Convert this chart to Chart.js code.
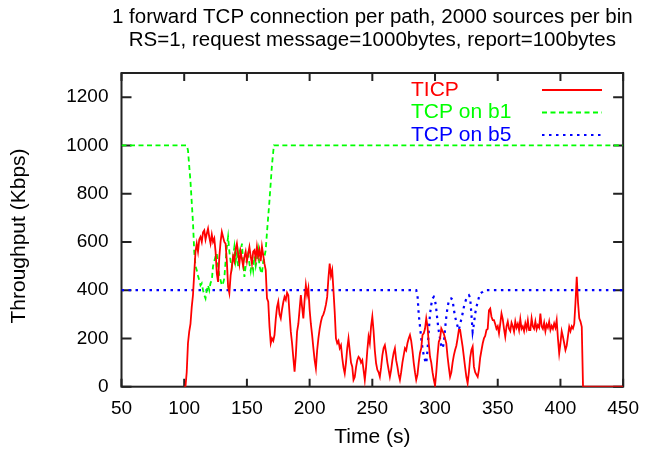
<!DOCTYPE html>
<html>
<head>
<meta charset="utf-8">
<script src="https://cdn.jsdelivr.net/npm/chart.js@4.4.0/dist/chart.umd.min.js"></script>
<style>
  html, body { margin: 0; padding: 0; background: #fff; }
  #wrap { width: 650px; height: 452px; }
</style>
</head>
<body>
<div id="wrap"><canvas id="tputChart" width="650" height="452"></canvas></div>
<script>
// TICP throughput (Kbps) over time (s)
var ticpTime = [100, 101, 102, 103, 104, 105, 106, 107, 108, 109, 110, 111, 112, 113, 114, 115, 116, 117, 118, 119,
  120, 121, 122, 123, 124, 125, 126, 127, 128, 129, 130, 131, 132, 133, 134, 135, 136, 137, 138, 139,
  140, 141, 142, 143, 144, 145, 146, 147, 148, 149, 150, 151, 152, 153, 154, 155, 156, 157, 158, 159,
  160, 161, 162, 163, 164, 165, 166, 167, 168, 169, 170, 171, 172, 173, 174, 175, 176, 177, 178, 179,
  180, 181, 182, 183, 184, 185, 186, 187, 188, 189, 190, 191, 192, 193, 194, 195, 196, 197, 198, 199,
  200, 201, 202, 203, 204, 205, 206, 207, 208, 209, 210, 211, 212, 213, 214, 215, 216, 217, 218, 219,
  220, 221, 222, 223, 224, 225, 226, 227, 228, 229, 230, 231, 232, 233, 234, 235, 236, 237, 238, 239,
  240, 241, 242, 243, 244, 245, 246, 247, 248, 249, 250, 251, 252, 253, 254, 255, 256, 257, 258, 259,
  260, 261, 262, 263, 264, 265, 266, 267, 268, 269, 270, 271, 272, 273, 274, 275, 276, 277, 278, 279,
  280, 281, 282, 283, 284, 285, 286, 287, 288, 289, 290, 291, 292, 293, 294, 295, 296, 297, 298, 299,
  300, 301, 302, 303, 304, 305, 306, 307, 308, 309, 310, 311, 312, 313, 314, 315, 316, 317, 318, 319,
  320, 321, 322, 323, 324, 325, 326, 327, 328, 329, 330, 331, 332, 333, 334, 335, 336, 337, 338, 339,
  340, 341, 342, 343, 344, 345, 346, 347, 348, 349, 350, 351, 352, 353, 354, 355, 356, 357, 358, 359,
  360, 361, 362, 363, 364, 365, 366, 367, 368, 369, 370, 371, 372, 373, 374, 375, 376, 377, 378, 379,
  380, 381, 382, 383, 384, 385, 386, 387, 388, 389, 390, 391, 392, 393, 394, 395, 396, 397, 398, 399,
  400, 401, 402, 403, 404, 405, 406, 407, 408, 409, 410, 411, 412, 413, 414, 415, 416, 417, 418, 450];
var ticpRate = [0, 0, 60, 180, 228, 260, 330, 380, 470, 559, 593, 560, 610, 621, 600, 640, 648, 610, 634, 655,
  620, 593, 630, 600, 614, 560, 469, 434, 538, 600, 641, 620, 600, 593, 520, 414, 388, 460, 497, 540,
  520, 570, 593, 550, 510, 560, 530, 500, 538, 560, 520, 550, 579, 540, 510, 560, 566, 530, 580, 540,
  566, 520, 580, 545, 510, 483, 366, 352, 250, 180, 200, 190, 214, 280, 330, 352, 300, 283, 320, 350,
  372, 360, 390, 379, 300, 228, 180, 120, 62, 130, 228, 260, 320, 380, 330, 283, 360, 421, 380, 408,
  320, 260, 214, 160, 110, 76, 150, 200, 240, 269, 290, 300, 317, 340, 372, 450, 510, 460, 483, 400,
  310, 200, 180, 190, 160, 172, 120, 80, 55, 100, 160, 200, 150, 100, 83, 28, 40, 80, 110, 124,
  117, 100, 110, 70, 28, 80, 150, 207, 180, 250, 290, 230, 150, 97, 70, 60, 41, 80, 130, 160,
  172, 140, 100, 70, 41, 70, 110, 140, 159, 110, 83, 50, 28, 60, 100, 130, 159, 150, 180, 200,
  214, 190, 150, 100, 60, 28, 50, 100, 140, 159, 214, 221, 240, 283, 250, 180, 124, 100, 60, 30,
  5, 60, 130, 186, 200, 241, 230, 220, 200, 179, 124, 80, 41, 60, 100, 130, 152, 170, 200, 235,
  235, 200, 166, 124, 80, 40, 14, 60, 120, 152, 166, 83, 60, 50, 41, 70, 120, 150, 179, 200,
  210, 235, 240, 317, 324, 290, 276, 276, 260, 240, 250, 221, 260, 303, 280, 240, 207, 250, 270, 240,
  230, 265, 250, 228, 270, 245, 260, 235, 280, 240, 250, 230, 262, 240, 275, 235, 235, 283, 250, 240,
  270, 238, 255, 245, 303, 250, 240, 265, 230, 258, 245, 270, 235, 252, 240, 262, 245, 276, 200, 138,
  180, 230, 207, 180, 152, 170, 210, 248, 230, 250, 241, 260, 350, 455, 350, 283, 270, 248, 0, 0];

// TCP on b1
var b1Time = [50, 102, 103, 105, 107, 108, 109, 110, 111, 112, 113, 114, 115, 116, 117, 118, 119, 120, 121, 122,
  123, 124, 125, 126, 127, 128, 129, 130, 131, 132, 133, 134, 135, 136, 137, 138, 139, 140, 141, 142,
  143, 144, 145, 146, 147, 148, 149, 150, 151, 152, 153, 154, 155, 156, 157, 158, 159, 160, 161, 162,
  163, 164, 165, 166, 168, 170, 171.5, 450];
var b1Rate = [1000, 1000, 980, 850, 680, 560, 500, 483, 460, 441, 420, 428, 400, 380, 366, 400, 420, 400, 430, 441,
  500, 520, 540, 552, 500, 460, 441, 420, 428, 450, 520, 580, 621, 560, 520, 497, 540, 580, 520, 552,
  500, 560, 540, 593, 520, 455, 500, 530, 552, 510, 480, 520, 483, 540, 500, 530, 566, 500, 480, 469,
  520, 540, 566, 640, 772, 920, 1000, 1000];

// TCP on b5
var b5Time = [50, 285, 286, 287, 288, 289, 290, 291, 292, 293, 294, 295, 296, 297, 298, 299, 300, 301, 302, 303,
  304, 305, 306, 307, 308, 309, 310, 311, 312, 313, 314, 315, 316, 317, 318, 319, 320, 321, 322, 323,
  324, 325, 326, 327, 328, 329, 330, 331, 332, 333, 334, 335, 336, 337, 338, 339, 340, 450];
var b5Rate = [400, 400, 380, 300, 250, 200, 160, 130, 110, 97, 150, 230, 300, 340, 365, 372, 360, 320, 270, 230,
  200, 170, 159, 180, 240, 290, 330, 355, 365, 366, 360, 320, 290, 269, 250, 235, 260, 280, 303, 330,
  350, 365, 375, 379, 370, 300, 228, 260, 303, 330, 350, 370, 385, 390, 393, 398, 400, 400];

var xTicks = [50, 100, 150, 200, 250, 300, 350, 400, 450];
var yTicks = [0, 200, 400, 600, 800, 1000, 1200];
var titleLines = ["1 forward TCP connection per path, 2000 sources per bin",
  "RS=1, request message=1000bytes, report=100bytes"];
var yTitle = "Throughput (Kbps)";
var seriesNames = ["TICP", "TCP on b1", "TCP on b5"];
var seriesColors = ["#ff0000", "#00ff00", "#0000ff"];
var seriesDash = [[], [5, 3.5], [2.5, 4.5]];

function toPoints(xs, ys) {
  return xs.map(function (x, i) {
    return { x: x, y: ys[i] };
  });
}

var FONT = '"Liberation Sans", Arial, Helvetica, sans-serif';

// gnuplot-like frame with inward ticks (drawn under the data), then title and key on top
var gnuFrame = {
  id: "gnuFrame",
  beforeDatasetsDraw: function (chart) {
    var ctx = chart.ctx;
    var a = chart.chartArea;
    var xs = chart.scales.x, ys = chart.scales.y;
    ctx.save();
    ctx.strokeStyle = "#222";
    ctx.lineWidth = 2;
    ctx.setLineDash([]);
    ctx.strokeRect(a.left, a.top, a.right - a.left, a.bottom - a.top);
    ctx.beginPath();
    xTicks.forEach(function (v) {
      var px = xs.getPixelForValue(v);
      ctx.moveTo(px, a.bottom); ctx.lineTo(px, a.bottom - 8);
      ctx.moveTo(px, a.top); ctx.lineTo(px, a.top + 8);
    });
    yTicks.forEach(function (v) {
      var py = ys.getPixelForValue(v);
      ctx.moveTo(a.left, py); ctx.lineTo(a.left + 10, py);
      ctx.moveTo(a.right, py); ctx.lineTo(a.right - 10, py);
    });
    ctx.stroke();
    ctx.restore();
  },
  afterDraw: function (chart) {
    var ctx = chart.ctx;
    var a = chart.chartArea;
    ctx.save();

    // title
    ctx.fillStyle = "#000";
    ctx.font = "20.5px " + FONT;
    ctx.textAlign = "center";
    ctx.textBaseline = "middle";
    var cx = (a.left + a.right) / 2;
    ctx.fillText(titleLines[0], cx, 17);
    ctx.fillText(titleLines[1], cx, 40);

    // y axis title
    ctx.save();
    ctx.font = "21px " + FONT;
    ctx.translate(19, 236);
    ctx.rotate(-Math.PI / 2);
    ctx.fillText(yTitle, 0, 0);
    ctx.restore();

    // key
    ctx.font = "21px " + FONT;
    ctx.textAlign = "left";
    seriesNames.forEach(function (name, i) {
      var y = 90 + i * 22.5;
      ctx.fillStyle = seriesColors[i];
      ctx.fillText(name, 411, y);
      ctx.strokeStyle = seriesColors[i];
      ctx.lineWidth = i == 2 ? 2.2 : 1.8;
      ctx.setLineDash(seriesDash[i]);
      ctx.beginPath();
      ctx.moveTo(542, y);
      ctx.lineTo(602, y);
      ctx.stroke();
    });
    ctx.restore();
  },
};

var ctx = document.getElementById("tputChart").getContext("2d");
var myChart = new Chart(ctx, {
  type: "line",
  data: {
    datasets: [
      {
        label: seriesNames[0],
        data: toPoints(ticpTime, ticpRate),
        borderColor: seriesColors[0],
        borderWidth: 1.8,
        borderDash: seriesDash[0],
      },
      {
        label: seriesNames[1],
        data: toPoints(b1Time, b1Rate),
        borderColor: seriesColors[1],
        borderWidth: 1.8,
        borderDash: seriesDash[1],
      },
      {
        label: seriesNames[2],
        data: toPoints(b5Time, b5Rate),
        borderColor: seriesColors[2],
        borderWidth: 2.2,
        borderDash: seriesDash[2],
      },
    ],
  },
  options: {
    responsive: false,
    animation: false,
    layout: { padding: { top: 73, right: 21.5, left: 0, bottom: 0 } },
    elements: {
      line: { tension: 0, fill: false, backgroundColor: "transparent" },
      point: { radius: 0 },
    },
    plugins: {
      legend: { display: false },
      title: { display: false },
      tooltip: { enabled: false },
    },
    scales: {
      x: {
        type: "linear",
        min: 50,
        max: 450,
        afterFit: function (scale) { scale.height = 65.3; },
        afterBuildTicks: function (scale) {
          scale.ticks = xTicks.map(function (v) { return { value: v }; });
        },
        grid: { display: false, drawTicks: false },
        border: { display: false },
        ticks: {
          color: "#000", font: { family: FONT, size: 19 }, padding: 11, maxRotation: 0,
          callback: function (v) { return String(v); },
        },
        title: {
          display: true,
          text: "Time (s)",
          color: "#000",
          font: { family: FONT, size: 21 },
          padding: { top: 0, bottom: 2 },
        },
      },
      y: {
        type: "linear",
        min: 0,
        max: 1300,
        afterFit: function (scale) { scale.width = 121.5; },
        afterBuildTicks: function (scale) {
          scale.ticks = yTicks.map(function (v) { return { value: v }; });
        },
        grid: { display: false, drawTicks: false },
        border: { display: false },
        ticks: {
          color: "#000", font: { family: FONT, size: 19 }, padding: 13,
          callback: function (v) { return String(v); },
        },
        title: { display: false },
      },
    },
  },
  plugins: [gnuFrame],
});
</script>
</body>
</html>
